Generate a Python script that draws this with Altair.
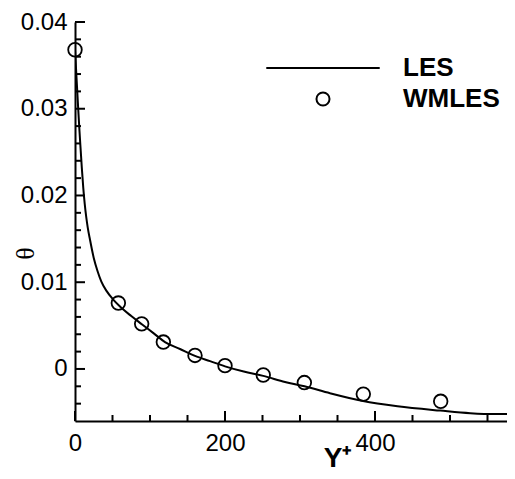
import altair as alt
import pandas as pd

# LES curve
les_x = [0, 1, 2, 3, 4.4, 6, 7.6, 9, 11, 13, 15, 17, 20, 25, 30, 35, 42, 51, 60, 75, 90, 105,
         120, 140, 160, 180, 200, 225, 251, 280, 306, 340, 384, 430, 487, 527, 560, 590]
les_y = [0.0368, 0.0352, 0.0336, 0.0320, 0.0298, 0.0274, 0.0252, 0.0233, 0.0209, 0.0190,
         0.0175, 0.0163, 0.0149, 0.0128, 0.0113, 0.0101, 0.0090, 0.0080, 0.0072, 0.0061,
         0.0051, 0.0041, 0.0031, 0.0023, 0.0015, 0.0009, 0.0003, -0.0003, -0.0008, -0.0015,
         -0.0020, -0.0028, -0.0037, -0.0043, -0.0048, -0.0051, -0.0052, -0.0052]

# WMLES points
wm_x = [0, 57.8, 88.9, 117.8, 160, 200, 251, 305.8, 384.4, 487.6]
wm_y = [0.0368, 0.0076, 0.0052, 0.0031, 0.00156, 0.00038, -0.0007, -0.00157, -0.0029, -0.00373]

y_major = [0, 0.01, 0.02, 0.03, 0.04]
y_minor = [-0.004, -0.002, 0.002, 0.004, 0.006, 0.008, 0.012, 0.014, 0.016, 0.018,
           0.022, 0.024, 0.026, 0.028, 0.032, 0.034, 0.036, 0.038]
x_major = [0, 200, 400]
x_minor = [50, 100, 150, 250, 300, 350, 450, 500, 550]

W, H = 432, 399
FONT = "Liberation Sans"

xscale = alt.Scale(domain=[0, 576], nice=False, zero=False)
yscale = alt.Scale(domain=[-0.006, 0.04], nice=False, zero=False)

x_axis = alt.Axis(
    values=x_major, format="d", labelFontSize=24, labelFont=FONT, labelPadding=10,
    ticks=False, tickSize=0, grid=False, domainColor="black", domainWidth=2,
    labelColor="black", title="Y⁺", titleFontSize=28, titleFont=FONT,
    titleFontWeight="bold", titleColor="black", titleX=262, titleY=37,
    titleBaseline="middle", labelFlush=False)
y_axis = alt.Axis(
    values=y_major, format="~g", labelFontSize=24, labelFont=FONT, labelPadding=8,
    ticks=False, tickSize=0, grid=False, domainColor="black", domainWidth=2,
    labelColor="black", title="θ", titleFontSize=26, titleFont="Liberation Serif",
    titleFontWeight="normal", titleColor="black", titleX=-50, titleY=231,
    titleBaseline="middle", labelFlush=False)

les_df = pd.DataFrame({"x": les_x, "y": les_y})
wm_df = pd.DataFrame({"x": wm_x, "y": wm_y, "series": ["WMLES"] * len(wm_x)})

line = alt.Chart(les_df).mark_line(color="black", strokeWidth=2, interpolate="monotone", clip=True).encode(
    x=alt.X("x:Q", scale=xscale, axis=x_axis),
    y=alt.Y("y:Q", scale=yscale, axis=y_axis),
)

points = alt.Chart(wm_df).mark_point(filled=False, color="black", opacity=1, strokeWidth=1.8, size=185).encode(
    x=alt.X("x:Q", scale=xscale, axis=x_axis),
    y=alt.Y("y:Q", scale=yscale, axis=y_axis),
    shape=alt.Shape("series:N",
                    scale=alt.Scale(domain=["LES", "WMLES"], range=["M-8.7,0H8.7", "circle"]),
                    legend=alt.Legend(title=None, orient="none", legendX=235, legendY=33,
                                      labelFontSize=26, labelFont=FONT, labelFontWeight="bold",
                                      labelColor="black", symbolSize=170, symbolStrokeWidth=2,
                                      symbolOpacity=1,
                                      symbolStrokeColor="black", symbolFillColor="transparent",
                                      labelOffset=67, rowPadding=5, padding=0)),
)

def yticks(vals, length):
    return alt.Chart(pd.DataFrame({"y": vals})).mark_rule(color="black", strokeWidth=2).encode(
        y=alt.Y("y:Q", scale=yscale, axis=y_axis), x=alt.value(0), x2=alt.value(length))

def xticks(vals, length):
    return alt.Chart(pd.DataFrame({"x": vals})).mark_rule(color="black", strokeWidth=2).encode(
        x=alt.X("x:Q", scale=xscale, axis=x_axis), y=alt.value(H), y2=alt.value(H - length))

chart = alt.layer(
    line, points,
    yticks(y_major, 10), yticks(y_minor, 6),
    xticks(x_major, 10), xticks(x_minor, 6),
).properties(
    width=W, height=H,
    background="white",
    autosize=alt.AutoSizeParams(type="none"),
    padding={"left": 67, "top": 14, "right": 0, "bottom": 50},
).configure_view(stroke=None)

chart.save("out.html", embed_options={"renderer": "svg", "actions": False})
